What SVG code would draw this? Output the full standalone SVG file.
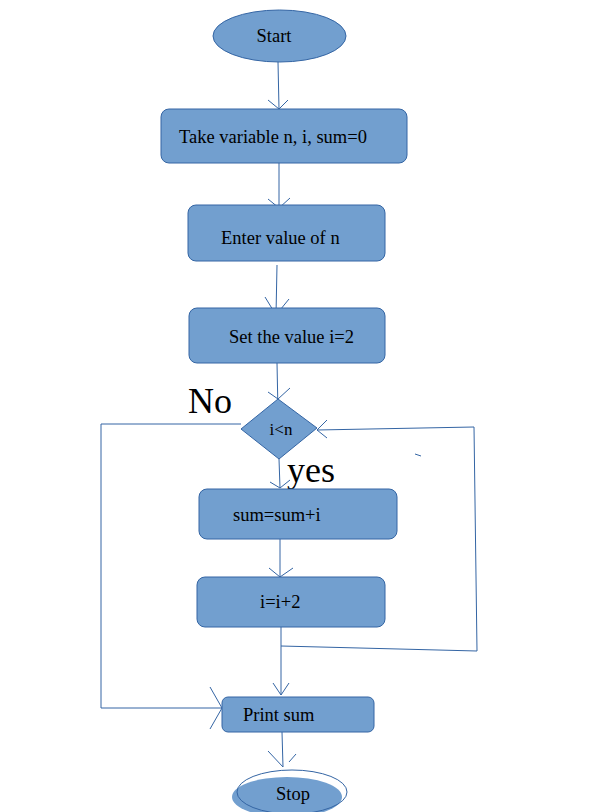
<svg xmlns="http://www.w3.org/2000/svg" width="599" height="812" viewBox="0 0 599 812">
<style>
.n{fill:#729fcf;stroke:#3465a4;stroke-width:1}
.c{fill:none;stroke:#3465a4;stroke-width:1}
text{fill:#000}
.t{font-size:18.5px}
.b{font-size:36px}
</style>
<rect width="599" height="812" fill="#fff"/>
<g id="connectors">
<path class="c" d="M278,62 L279,109 M268,100 L279,109 L288,100"/>
<path class="c" d="M279,163 L279,208 M268,199 L279,208 L290,198"/>
<path class="c" d="M277,265 L276,315 M265,297 L276,315 L289,299"/>
<path class="c" d="M277,363 L278,412 M268,392 L278,399 L290,388"/>
<path class="c" d="M241,424 L101,424 L101,708 L222,708 M210,687 L222,708 L210,729"/>
<path class="c" d="M279,459 L280,488 M270,482 L280,488 L290,480"/>
<path class="c" d="M280,539 L280,577 M269,568 L280,577 L293,568"/>
<path class="c" d="M281,627 L281,695 M273,683 L281,695 L289,683"/>
<path class="c" d="M281,646 L477,651 L474,427 L317,430 M327,420 L317,430 L327,438"/>
<path class="c" d="M415,454 L421,456"/>
<path class="c" d="M282,732 L283,767 M268,751 L283,767 M289,762 L296,754"/>
</g>
<g font-family="'Liberation Serif', 'Times New Roman', serif">
<g id="start"><ellipse class="n" cx="279.5" cy="36" rx="66.5" ry="26"/><text class="t" x="274" y="42" text-anchor="middle">Start</text></g>
<g id="take"><rect class="n" x="161" y="109" width="246" height="54" rx="8"/><text class="t" x="179" y="143">Take variable n, i, sum=0</text></g>
<g id="enter"><rect class="n" x="188" y="205" width="197" height="56" rx="8"/><text class="t" x="221" y="244">Enter value of n</text></g>
<g id="set"><rect class="n" x="189" y="308" width="196" height="55" rx="8"/><text class="t" x="229" y="343">Set the value i=2</text></g>
<g id="cond"><polygon class="n" points="278,399 317,428 279,459 241,429"/><text class="t" x="281" y="435" text-anchor="middle" style="font-size:17px">i&lt;n</text></g>
<text class="b" x="188" y="413">No</text>
<text class="b" x="287" y="482">yes</text>
<g id="sum"><rect class="n" x="199" y="489" width="198" height="50" rx="8"/><text class="t" x="233" y="521">sum=sum+i</text></g>
<g id="inc"><rect class="n" x="197" y="577" width="188" height="50" rx="8"/><text class="t" x="260" y="608">i=i+2</text></g>
<g id="print"><rect class="n" x="222" y="697" width="152" height="35" rx="6"/><text class="t" x="243" y="721">Print sum</text></g>
<g id="stop"><ellipse cx="287" cy="797" rx="55" ry="20" fill="#729fcf"/><ellipse class="c" cx="292" cy="792" rx="55" ry="22"/><text class="t" x="276" y="800">Stop</text></g>
</g>
</svg>
